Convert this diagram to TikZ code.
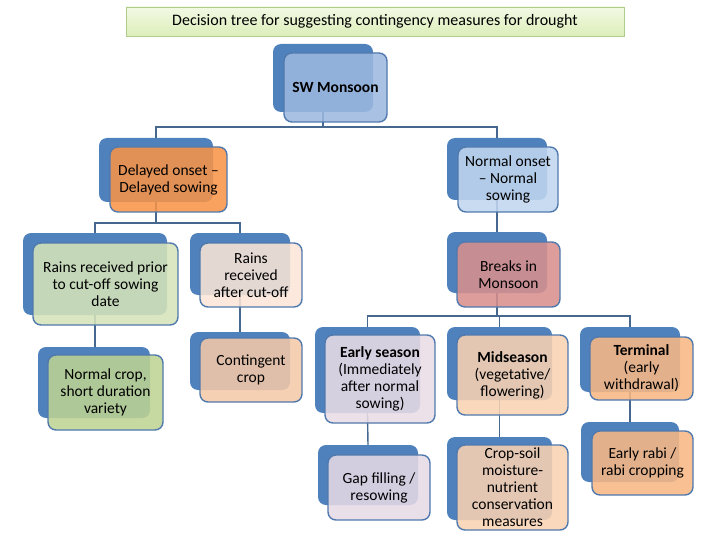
\documentclass[tikz,border=0pt]{standalone}
\usepackage{fontspec}
\setmainfont{Carlito}
\usetikzlibrary{backgrounds}
\definecolor{bk}{HTML}{4F81BD}
\definecolor{bd}{HTML}{5079AD}
\definecolor{ln}{HTML}{46678E}
\definecolor{cSW}{HTML}{9CB9DF}
\definecolor{cDel}{HTML}{F89447}
\definecolor{cNor}{HTML}{C1D6EF}
\definecolor{cPri}{HTML}{D6E4B9}
\definecolor{cAft}{HTML}{FBE5D7}
\definecolor{cBrk}{HTML}{D88F8C}
\definecolor{cNc}{HTML}{BED392}
\definecolor{cCon}{HTML}{F5C9A7}
\definecolor{cEs}{HTML}{E9DCE5}
\definecolor{cMid}{HTML}{F9D2B2}
\definecolor{cTer}{HTML}{F8B883}
\definecolor{cGap}{HTML}{E6DAE6}
\definecolor{tTop}{HTML}{F2F9E4}
\definecolor{tBot}{HTML}{DDEEBA}
\definecolor{tBd}{HTML}{B0CC8C}
\begin{document}
\begin{tikzpicture}[x=1pt,y=-1pt,
  backbox/.style={rectangle, rounded corners=8pt, fill=bk, draw=none, inner sep=0pt},
  frontbox/.style={rectangle, rounded corners=8pt, draw=bd, line width=1.4pt,
    fill opacity=0.87, text opacity=1, inner sep=0pt, align=center,
    font=\fontsize{15.5}{17}\selectfont},
  conn/.style={draw=ln, line width=1.4pt},
  titlebox/.style={rectangle, draw=tBd, line width=0.8pt, top color=tTop, bottom color=tBot,
    inner sep=0pt, font=\fontsize{16}{18}\selectfont}]
\useasboundingbox (0,0) rectangle (720,540);

\node[titlebox, minimum width=498pt, minimum height=29pt] (title) at (375,21.5)
  {Decision tree for suggesting contingency measures for drought};

% SW Monsoon
\node[backbox, minimum width=100pt, minimum height=68pt] (swB) at (323,78) {};
\node[frontbox, fill=cSW, minimum width=103pt, minimum height=69pt] (sw) at (335.5,87.5) {\textbf{SW Monsoon}};
% Delayed onset
\node[backbox, minimum width=114pt, minimum height=64pt] (delB) at (156,170) {};
\node[frontbox, fill=cDel, minimum width=117pt, minimum height=65pt] (del) at (168.5,179.5) {Delayed onset --\\Delayed sowing};
% Normal onset
\node[backbox, minimum width=100pt, minimum height=62pt] (norB) at (497,169) {};
\node[frontbox, fill=cNor, minimum width=100pt, minimum height=65pt] (nor) at (508,179.5) {Normal onset\\-- Normal\\sowing};
% Rains prior
\node[backbox, minimum width=144pt, minimum height=82pt] (priB) at (95,274) {};
\node[frontbox, fill=cPri, minimum width=145pt, minimum height=82pt] (pri) at (105.5,284) {Rains received prior\\to cut-off sowing\\date};
% Rains after
\node[backbox, minimum width=100pt, minimum height=62pt] (aftB) at (240,264) {};
\node[frontbox, fill=cAft, minimum width=102pt, minimum height=64pt] (aft) at (251,275) {Rains\\received\\after cut-off};
% Breaks
\node[backbox, minimum width=100pt, minimum height=61pt] (brkB) at (497,262.5) {};
\node[frontbox, fill=cBrk, minimum width=103pt, minimum height=65pt] (brk) at (508.5,274.5) {Breaks in\\Monsoon};
% Normal crop
\node[backbox, minimum width=112pt, minimum height=71pt] (ncB) at (94,382.5) {};
\node[frontbox, fill=cNc, minimum width=115pt, minimum height=75pt] (nc) at (105.5,392.5) {Normal crop,\\short duration\\variety};
% Contingent crop
\node[backbox, minimum width=100pt, minimum height=58pt] (conB) at (240,361) {};
\node[frontbox, fill=cCon, minimum width=102pt, minimum height=64pt] (con) at (251,370) {Contingent\\crop};
% Early season
\node[backbox, minimum width=105pt, minimum height=86pt] (esB) at (367.5,370) {};
\node[frontbox, fill=cEs, minimum width=110pt, minimum height=88pt] (es) at (380,379) {\textbf{Early season}\\(Immediately\\after normal\\sowing)};
% Midseason
\node[backbox, minimum width=105pt, minimum height=73pt] (midB) at (499.5,363.5) {};
\node[frontbox, fill=cMid, minimum width=111pt, minimum height=80pt] (mid) at (512.5,375) {\textbf{Midseason}\\(vegetative/\\flowering)};
% Terminal
\node[backbox, minimum width=100pt, minimum height=65pt] (terB) at (630,359.5) {};
\node[frontbox, fill=cTer, minimum width=103pt, minimum height=63pt] (ter) at (641.5,368.5) {\textbf{Terminal}\\(early\\withdrawal)};
% Gap filling
\node[backbox, minimum width=100pt, minimum height=60pt] (gapB) at (368,475) {};
\node[frontbox, fill=cGap, minimum width=102pt, minimum height=65pt] (gap) at (379,487.5) {Gap filling /\\resowing};
% Crop-soil
\node[backbox, minimum width=105pt, minimum height=83pt] (csB) at (499.5,478.5) {};
\node[frontbox, fill=cMid, minimum width=111pt, minimum height=85pt] (cs) at (512.5,487.5) {Crop-soil\\moisture-\\nutrient\\conservation\\measures};
% Early rabi
\node[backbox, minimum width=98pt, minimum height=60pt] (erB) at (630,452) {};
\node[frontbox, fill=cTer, minimum width=101pt, minimum height=64pt] (er) at (642.5,463) {Early rabi /\\rabi cropping};

\coordinate (y1) at (0,127);
\coordinate (y2) at (0,223);
\coordinate (y3) at (0,316);
\begin{scope}[on background layer]
  \draw[conn] (swB.south) -- (swB.south |- y1);
  \draw[conn] (delB.north) |- (norB.north |- y1) -- (norB.north);
  \draw[conn] (delB.south) -- (delB.south |- y2);
  \draw[conn] (priB.north) |- (aftB.north |- y2) -- (aftB.north);
  \draw[conn] (priB.south) -- (priB.south |- ncB.north);
  \draw[conn] (aftB.south) -- (conB.north);
  \draw[conn] (norB.south) -- (brkB.north);
  \draw[conn] (brkB.south) -- (brkB.south |- y3);
  \draw[conn] (esB.north) |- (terB.north |- y3) -- (terB.north);
  \draw[conn] (midB.north) -- (midB.north |- y3);
  \draw[conn] (esB.south) -- (gapB.north);
  \draw[conn] (midB.south) -- (csB.north);
  \draw[conn] (terB.south) -- (erB.north);
\end{scope}
\end{tikzpicture}
\end{document}
